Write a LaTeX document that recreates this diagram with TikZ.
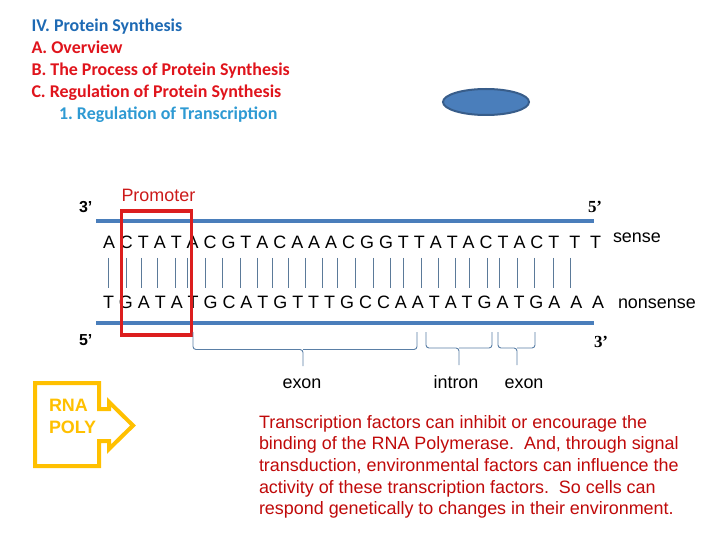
\documentclass[tikz,border=0pt]{standalone}
\usepackage{fontspec}
\setmainfont{Liberation Sans}
\newfontfamily\calibri{Carlito}
\newfontfamily\serifb{Liberation Serif}
\usetikzlibrary{shapes.geometric}
\definecolor{titleblue}{HTML}{1E6AB4}
\definecolor{titlered}{HTML}{E0141C}
\definecolor{subblue}{HTML}{2E9AD3}
\definecolor{promred}{HTML}{CC1A1A}
\definecolor{parared}{HTML}{C00A0A}
\definecolor{strandblue}{HTML}{4A7EBB}
\definecolor{ovalline}{HTML}{385D8A}
\definecolor{tickc}{HTML}{5B7A99}
\definecolor{bracec}{HTML}{5A7FA6}
\definecolor{polyy}{HTML}{FFC000}
\definecolor{boxred}{HTML}{DC1E1E}
\begin{document}
\frenchspacing
\begin{tikzpicture}[x=1bp,y=-1bp,
  txt/.style={inner sep=0pt, outer sep=0pt, anchor=base west},
  ttl/.style={txt, font=\calibri\bfseries\fontsize{18}{22}\selectfont},
  seq/.style={txt, font=\fontsize{18}{21.6}\selectfont},
  prime/.style={txt, font=\bfseries\fontsize{16}{18}\selectfont},
  primes/.style={txt, font=\serifb\bfseries\fontsize{17}{19}\selectfont},
  strand/.style={draw=strandblue, line width=4bp},
  tickline/.style={draw=tickc, line width=0.8bp},
  bracel/.style={draw=bracec, line width=0.9bp, rounded corners=3bp},
  lbl/.style={inner sep=0pt, outer sep=0pt, anchor=base, font=\fontsize{18}{21.6}\selectfont},
  para/.style={txt, text=parared, font=\fontsize{18}{21.7}\selectfont}
]
\useasboundingbox (0,0) rectangle (720,540);
\fill[white] (0,0) rectangle (720,540);

% titles
\node[ttl, text=titleblue] (t1) at (31.5,31.5) {IV. Protein Synthesis};
\node[ttl, text=titlered] (t2) at (31.5,53.5) {A. Overview};
\node[ttl, text=titlered] (t3) at (31.5,75.5) {B. The Process of Protein Synthesis};
\node[ttl, text=titlered] (t4) at (31.5,97.5) {C. Regulation of Protein Synthesis};
\node[ttl, text=subblue] (t5) at (59,119.5) {1. Regulation of Transcription};

% oval
\node[ellipse, draw=ovalline, fill=strandblue, line width=2bp,
      minimum width=86bp, minimum height=26bp, inner sep=0pt] (oval) at (486,102) {};

% strands
\draw[strand] (96,221.5) -- (594,221.5);
\draw[strand] (96,323.3) -- (594,323.3);

% sequences
\node[seq] (sense) at (103,248.5) {A C T A T A C G T A C A A A C G G T T A T A C T A C T \ T \ T};
\node[seq] (nonsense) at (103,308.5) {T G A T A T G C A T G T T T G C C A A T A T G A T G A \ A \ A};
\node[seq] (senselbl) at (613,243) {sense};
\node[seq] (nonsenselbl) at (618,308.5) {nonsense};

% ticks
\foreach \x in {108,126,141,157,175,187,205,222,240,257,272,288,305,322,337,355,373,
                390,403,421,438,455,469,487,499,517,534,553,570}
  \draw[tickline] (\x,258) -- (\x,288);

% primes
\node[prime] (p3a) at (79,213) {3’};
\node[primes] (p5a) at (588,213) {5’};
\node[prime] (p5b) at (79,345) {5’};
\node[primes] (p3b) at (594,347) {3’};

% promoter box
\draw[draw=boxred, line width=3.3bp] (121.5,211) rectangle (191.5,335);
\node[txt, text=promred, font=\fontsize{18}{21.6}\selectfont] (prom) at (121.5,201.5) {Promoter};

% braces
\draw[bracel] (193,332) -- (193,349.5) -- (303,349.5) -- (303,366);
\draw[bracel] (417,332) -- (417,349.5) -- (303,349.5);
\draw[bracel] (426,332) -- (426,348) -- (459,348) -- (459,365);
\draw[bracel] (492,332) -- (492,348) -- (459,348);
\draw[bracel] (498,332) -- (498,348) -- (517,348) -- (517,365);
\draw[bracel] (535,332) -- (535,348) -- (517,348);

\node[lbl] (exon1) at (302,388) {exon};
\node[lbl] (intron) at (456,388) {intron};
\node[lbl] (exon2) at (524,388) {exon};

% RNA POLY
\draw[draw=polyy, line width=4bp, line join=miter]
  (35,383) -- (99,383) -- (99,409) -- (109,409) -- (109,402) -- (133,425.5)
  -- (109,449) -- (109,441) -- (99,441) -- (99,466) -- (35,466) -- cycle;
\node[txt, text=polyy, font=\bfseries\fontsize{18}{20}\selectfont] (rna) at (49,411) {RNA};
\node[txt, text=polyy, font=\bfseries\fontsize{18}{20}\selectfont] (poly) at (49,433) {POLY};

% paragraph
\node[para] (l1) at (259,428) {Transcription factors can inhibit or encourage the};
\node[para] (l2) at (259,449.7) {binding of the RNA Polymerase. \ And, through signal};
\node[para] (l3) at (259,471.4) {transduction, environmental factors can influence the};
\node[para] (l4) at (259,493.1) {activity of these transcription factors. \ So cells can};
\node[para] (l5) at (259,514.8) {respond genetically to changes in their environment.};
\end{tikzpicture}
\end{document}
